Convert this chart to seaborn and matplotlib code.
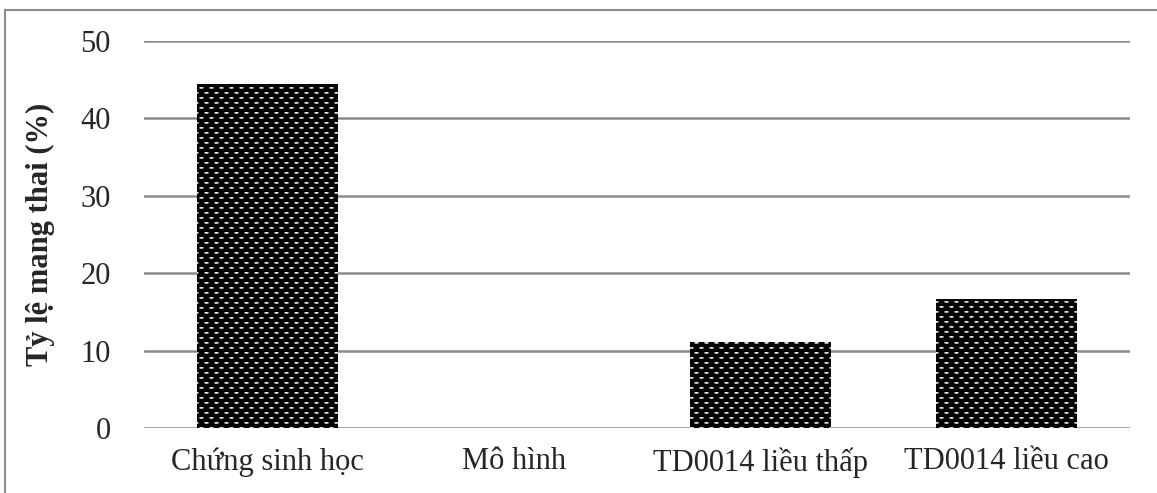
import matplotlib
matplotlib.use("Agg")
import matplotlib.pyplot as plt
import matplotlib.patches as mpatches
import numpy as np
import pandas as pd
import seaborn as sns

# data
categories = ['Chứng sinh học', 'Mô hình', 'TD0014 liều thấp', 'TD0014 liều cao']
pregnancy_rate = [44.4, 0.0, 11.1, 16.7]
y_ticks = [0, 10, 20, 30, 40, 50]

df = pd.DataFrame({'group': categories, 'rate': pregnancy_rate})

sns.set_style('white')
plt.rcParams['font.family'] = ['Liberation Serif', 'DejaVu Serif']

fig = plt.figure(figsize=(11.57, 4.93), dpi=100)
ax = fig.add_axes([144 / 1157, 1 - 428 / 493, (1130 - 144) / 1157, (428 - 41) / 493])

sns.barplot(data=df, x='group', y='rate', color='black', width=0.57,
            saturation=1, ax=ax, zorder=3)

ax.set_ylim(0, 50)
ax.set_yticks(y_ticks)
ax.yaxis.grid(True, color='#8c8c8c', linewidth=1.8, zorder=0)
ax.set_axisbelow(True)
for s in ax.spines.values():
    s.set_visible(False)
ax.tick_params(axis='both', length=0, labelsize=22)
ax.tick_params(axis='y', pad=24)
ax.tick_params(axis='x', pad=14)
ax.set_xlabel('')
ax.set_ylabel('Tỷ lệ mang thai (%)', fontsize=22, fontweight='bold', labelpad=18)

# dotted fill texture (black with staggered light dots), clipped to each bar
tile = np.zeros((10, 10))
dot = np.array([[0.45, 0.85, 0.9, 0.85, 0.45],
                [0.3, 0.65, 0.7, 0.65, 0.3]])
tile[1:3, 0:5] = dot
tile[6:8, 5:10] = dot
w_px, h_px = 986, 387
texture = np.tile(tile, (h_px // 10 + 1, w_px // 10 + 1))[:h_px, :w_px]
xlim = ax.get_xlim()
for bar in list(ax.patches):
    bar.set_facecolor('black')
    bar.set_linewidth(0)
    if bar.get_height() <= 0:
        continue
    im = ax.imshow(texture, cmap='gray', vmin=0, vmax=1, origin='upper',
                   extent=[xlim[0], xlim[1], 0, 50], aspect='auto',
                   interpolation='nearest', zorder=4)
    im.set_clip_path(bar)
ax.set_xlim(xlim)
ax.set_ylim(0, 50)

# outer frame around the chart
fig.patches.append(mpatches.Rectangle((5 / 1157, -0.1), 2, 1 - 10 / 493 + 0.1,
                                      transform=fig.transFigure, fill=False,
                                      edgecolor='#8c8c8c', linewidth=1.5))

fig.savefig('out.png', dpi=100)
